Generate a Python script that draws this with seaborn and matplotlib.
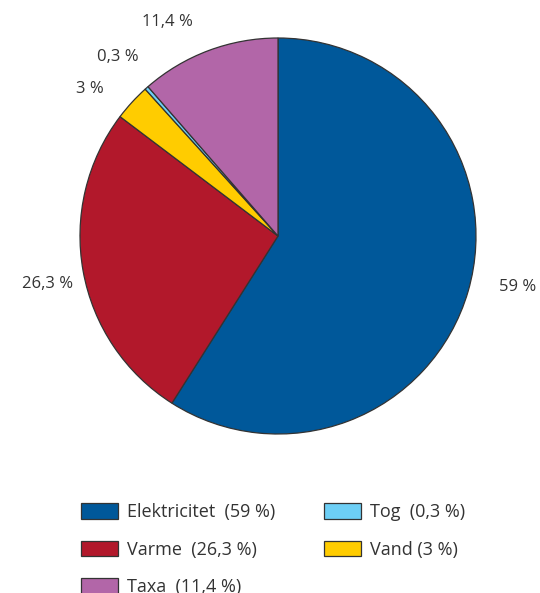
import matplotlib
matplotlib.use("Agg")
import matplotlib.pyplot as plt
import seaborn as sns
from matplotlib.patches import Patch

# Energy consumption shares (percent), clockwise from 12 o'clock
categories = ["Elektricitet", "Varme", "Vand", "Tog", "Taxa"]
values = [59.0, 26.3, 3.0, 0.3, 11.4]
value_labels = ["59 %", "26,3 %", "3 %", "0,3 %", "11,4 %"]
legend_labels = ["Elektricitet  (59 %)", "Varme  (26,3 %)", "Vand (3 %)",
                 "Tog  (0,3 %)", "Taxa  (11,4 %)"]
colors = ["#00589a", "#b2182b", "#ffcc00", "#6dcff6", "#b266a8"]

sns.set_theme(style="white")
plt.rcParams["font.family"] = ["Open Sans", "DejaVu Sans"]

W, H = 540, 593
fig = plt.figure(figsize=(W / 100, H / 100), dpi=100)
ax = fig.add_axes([0, 0, 1, 1])

cx, cy, r = 278, H - 236, 198
wedges, _ = ax.pie(values, colors=sns.color_palette(colors), startangle=90,
                   counterclock=False, center=(cx, cy), radius=r, frame=True,
                   wedgeprops=dict(edgecolor="#333333", linewidth=0.9))
ax.set_xlim(0, W)
ax.set_ylim(0, H)
ax.set_aspect("equal")
ax.axis("off")

# value labels around the pie
label_pos = [(518, 287), (48, 284), (90, 89), (118, 57), (167, 22)]
text_color = "#333333"
for txt, (x, y) in zip(value_labels, label_pos):
    ax.text(x, H - y, txt, ha="center", va="center", fontsize=12,
            color=text_color)

# legend: first column Elektricitet, Varme, Taxa; second Tog, Vand
order = [0, 1, 4, 3, 2]
handles = [Patch(facecolor=colors[i], edgecolor="#333333", linewidth=0.9)
           for i in order]
labels = [legend_labels[i] for i in order]
leg = fig.legend(handles, labels, ncol=2, loc="upper left",
                 bbox_to_anchor=(81 / W, 1 - 503 / H), frameon=False,
                 fontsize=13, handlelength=2.05, handleheight=0.95,
                 handletextpad=0.5, labelspacing=1.08, columnspacing=2.68,
                 borderpad=0, borderaxespad=0)
for t in leg.get_texts():
    t.set_color(text_color)

fig.savefig("out.png", dpi=100)
